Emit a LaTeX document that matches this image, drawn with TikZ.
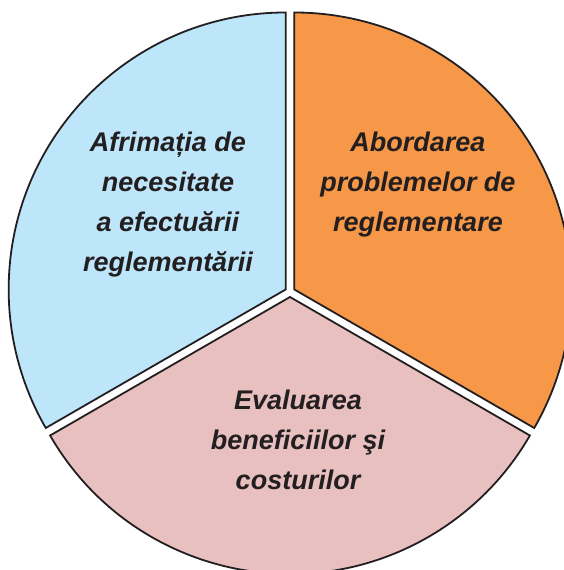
\documentclass[tikz,border=0pt]{standalone}
\usepackage{fontspec}
\setmainfont{Liberation Sans}
\usetikzlibrary{calc}
\definecolor{sblue}{RGB}{189,230,250}
\definecolor{sorange}{RGB}{247,152,73}
\definecolor{spink}{RGB}{233,192,192}
\definecolor{sline}{RGB}{35,31,32}
\tikzset{
  sector/.style={draw=sline, line width=1.8pt, line join=miter},
  label/.style={text=sline, align=center, inner sep=0pt,
    font=\bfseries\itshape\fontsize{27}{40}\selectfont}
}
\begin{document}
\begin{tikzpicture}[x=1pt,y=1pt]
\useasboundingbox (0,0) rectangle (564,570);
\clip (0,0) rectangle (564,570);
\coordinate (C) at (290,278);
\def\R{277}
\def\d{5}
% blue sector (90..210)
\coordinate (Cb) at ($(C)+(150:\d)$);
\path[sector, fill=sblue] (Cb) -- ++(90:\R) arc[start angle=90, end angle=210, radius=\R] -- cycle;
% orange sector (-30..90)
\coordinate (Co) at ($(C)+(30:\d)$);
\path[sector, fill=sorange] (Co) -- ++(-30:\R) arc[start angle=-30, end angle=90, radius=\R] -- cycle;
% pink sector (210..330)
\coordinate (Cp) at ($(C)+(270:\d)$);
\path[sector, fill=spink] (Cp) -- ++(210:\R) arc[start angle=210, end angle=330, radius=\R] -- cycle;
\node[label] (tb) at (168,365) {Afrimația de\\necesitate\\a efectuării\\reglementării};
\node[label] (to) at (418,385) {Abordarea\\problemelor de\\reglementare};
\node[label] (tp) at (298,130) {Evaluarea\\beneficiilor şi\\costurilor};
\end{tikzpicture}
\end{document}
